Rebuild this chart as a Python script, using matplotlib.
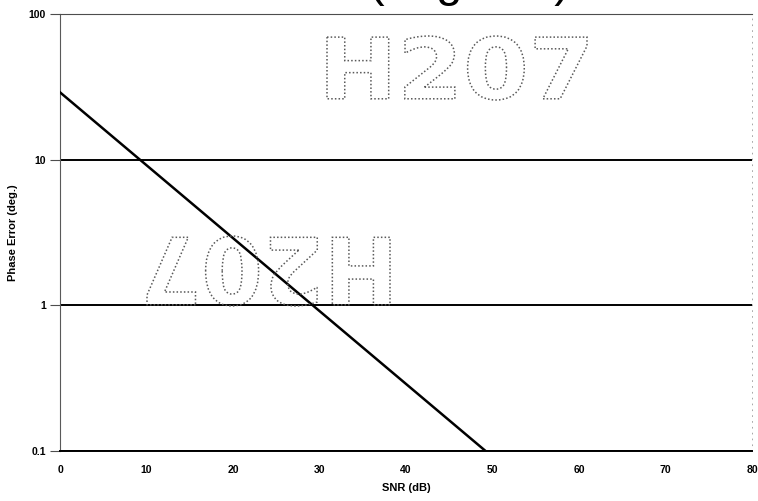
import matplotlib
matplotlib.use("Agg")
import matplotlib.pyplot as plt
from matplotlib.textpath import TextPath
from matplotlib.patches import PathPatch
from matplotlib.font_manager import FontProperties
from matplotlib.transforms import Affine2D

# data
snr_db = [0, 49.2]
phase_err = [29, 0.1]
x_ticks = [0, 10, 20, 30, 40, 50, 60, 70, 80]
y_ticks = [0.1, 1, 10, 100]
y_tick_labels = ["0.1", "1", "10", "100"]

W, H = 758, 501
fig = plt.figure(figsize=(W / 100, H / 100), dpi=100)
ax = fig.add_axes([60 / W, 50 / H, 692 / W, 437 / H])

ax.set_yscale("log")
ax.set_xlim(0, 80)
ax.set_ylim(0.1, 100)
ax.plot(snr_db, phase_err, color="black", lw=1.8, zorder=3)

ax.yaxis.grid(True, which="major", color="black", lw=1.4)
ax.set_axisbelow(True)
ax.minorticks_off()

tick_font = dict(family="Liberation Sans", weight="bold", size=7.5)
ax.set_xticks(x_ticks)
ax.set_xticklabels([str(v) for v in x_ticks], **tick_font)
ax.set_yticks(y_ticks)
ax.set_yticklabels(y_tick_labels, **tick_font)
ax.tick_params(axis="x", length=0, pad=10)
ax.tick_params(axis="y", length=7, width=0.8, color="0.3", pad=3)

ax.spines["top"].set_linestyle((0, (2, 1)))
ax.spines["top"].set_color("0.3")
ax.spines["top"].set_linewidth(0.8)
ax.spines["left"].set_color("0.35")
ax.spines["left"].set_linewidth(0.8)
ax.spines["right"].set_linestyle((0, (1, 6)))
ax.spines["right"].set_color("0.6")
ax.spines["right"].set_linewidth(0.6)
ax.spines["bottom"].set_linewidth(1.4)

ax.set_xlabel("SNR (dB)", family="Liberation Sans", weight="bold", size=8, labelpad=6)
ax.set_ylabel("Phase Error (deg.)", family="Liberation Sans", weight="bold", size=8, labelpad=8)

# cut-off title at the top of the scan, only descenders visible
fig.text(368 / W, 1.008, "(degrees)", family="Liberation Sans", size=34,
         ha="left", va="baseline")


# dotted outline stamp text
def stamp(text, x0, y0, x1, y1, flip=False):
    prop = FontProperties(family="DejaVu Sans", weight="bold")
    tp = TextPath((0, 0), text, size=100, prop=prop)
    ext = tp.get_extents()
    sx = (x1 - x0) / ext.width
    sy = (y1 - y0) / ext.height
    cx = (ext.x0 + ext.x1) / 2
    cy = (ext.y0 + ext.y1) / 2
    tr = Affine2D().translate(-cx, -cy).scale(sx, sy)
    if flip:
        tr = tr.rotate_deg(180)
    tr = tr.translate((x0 + x1) / 2, (y0 + y1) / 2)
    patch = PathPatch(tp, facecolor="none", edgecolor="0.35", lw=1.1,
                      linestyle=(0, (1, 1.4)), transform=tr)
    fig.add_artist(patch)


stamp("H207", 327, H - 100, 587, H - 36)
stamp("H207", 147, H - 306, 390, H - 236, flip=True)

fig.savefig("out.png", dpi=100)
